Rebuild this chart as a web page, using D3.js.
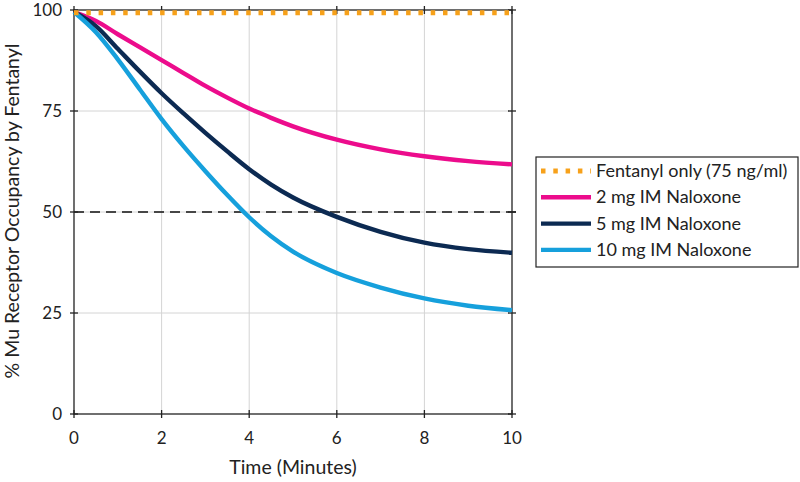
<!DOCTYPE html>
<html><head><meta charset="utf-8">
<script src="https://cdn.jsdelivr.net/npm/d3@7"></script>
<style>body{margin:0;background:#fff;}text{font-family:Lato,"Open Sans",sans-serif;fill:#222;}</style>
</head><body><svg id="c" width="800" height="482"></svg>
<script>
const times = [0, 0.5, 1, 1.5, 2, 2.5, 3, 3.5, 4, 4.5, 5, 6, 7, 8, 9, 10];
const fentanylOnly = [99.3, 99.3, 99.3, 99.3, 99.3, 99.3, 99.3, 99.3, 99.3, 99.3, 99.3, 99.3, 99.3, 99.3, 99.3, 99.3];
const nalox2mg = [99.5, 97.3, 94.0, 90.8, 87.6, 84.4, 81.2, 78.3, 75.6, 73.3, 71.2, 67.9, 65.5, 63.8, 62.6, 61.8];
const nalox5mg = [99.5, 96.0, 90.4, 84.8, 79.4, 74.4, 69.6, 65.0, 60.6, 56.8, 53.6, 48.8, 45.1, 42.4, 40.8, 39.9];
const nalox10mg = [99.5, 94.5, 87.8, 80.4, 73.0, 66.3, 60.1, 54.2, 48.7, 44.0, 40.2, 34.9, 31.3, 28.6, 26.8, 25.7];
const seriesNames = ["Fentanyl only (75 ng/ml)", "2 mg IM Naloxone", "5 mg IM Naloxone", "10 mg IM Naloxone"];
const seriesColors = ["#F7A11A", "#EC0C8C", "#0C2A52", "#16A0DC"];
const xTicks = [0, 2, 4, 6, 8, 10];
const yTicks = [0, 25, 50, 75, 100];
const thresholdValue = 50;

const svg = d3.select("#c");
const x = d3.scaleLinear().domain([0, 10]).range([74, 512]);
const y = d3.scaleLinear().domain([0, 100]).range([414, 10]);

// grid
svg.append("g").selectAll("line").data(xTicks.slice(1, -1)).join("line")
  .attr("x1", d => x(d)).attr("x2", d => x(d)).attr("y1", y(0)).attr("y2", y(100))
  .attr("stroke", "#d4d4d4").attr("stroke-width", 1);
svg.append("g").selectAll("line").data(yTicks.slice(1, -1)).join("line")
  .attr("y1", d => y(d)).attr("y2", d => y(d)).attr("x1", x(0)).attr("x2", x(10))
  .attr("stroke", "#d4d4d4").attr("stroke-width", 1);

// threshold dashed line
svg.append("line").attr("x1", x(0)).attr("x2", x(10) + 5)
  .attr("y1", y(thresholdValue)).attr("y2", y(thresholdValue))
  .attr("stroke", "#111").attr("stroke-width", 1.6).attr("stroke-dasharray", "10,6");

// axes (box with crossing ticks)
const axG = svg.append("g").attr("stroke", "#222").attr("stroke-width", 1.3);
axG.append("rect").attr("x", x(0)).attr("y", y(100)).attr("width", x(10) - x(0)).attr("height", y(0) - y(100)).attr("fill", "none");
xTicks.forEach(t => {
  axG.append("line").attr("x1", x(t)).attr("x2", x(t)).attr("y1", y(0) - 4).attr("y2", y(0) + 4);
  axG.append("line").attr("x1", x(t)).attr("x2", x(t)).attr("y1", y(100) - 4).attr("y2", y(100) + 4);
});
yTicks.forEach(t => {
  axG.append("line").attr("x1", x(0) - 4).attr("x2", x(0) + 4).attr("y1", y(t)).attr("y2", y(t));
  axG.append("line").attr("x1", x(10) - 4).attr("x2", x(10) + 4).attr("y1", y(t)).attr("y2", y(t));
});

// tick labels
svg.append("g").selectAll("text").data(xTicks).join("text")
  .attr("x", d => x(d)).attr("y", y(0) + 30).attr("text-anchor", "middle")
  .attr("font-size", 17).text(d => d);
svg.append("g").selectAll("text").data(yTicks).join("text")
  .attr("x", x(0) - 12).attr("y", d => y(d) + 6).attr("text-anchor", "end")
  .attr("font-size", 17).text(d => d);

// axis titles
svg.append("text").attr("x", x(5)).attr("y", 474).attr("text-anchor", "middle")
  .attr("font-size", 19.5).text("Time (Minutes)");
svg.append("text").attr("transform", `translate(19,${y(50) - 1}) rotate(-90)`)
  .attr("text-anchor", "middle").attr("font-size", 19.5).text("% Mu Receptor Occupancy by Fentanyl");

// lines
const allSeries = [fentanylOnly, nalox2mg, nalox5mg, nalox10mg];
const line = d3.line().x((d, i) => x(times[i])).y(d => y(d)).curve(d3.curveMonotoneX);
allSeries.forEach((s, k) => {
  if (k === 0) return;
  svg.append("path").attr("d", line(s)).attr("fill", "none")
    .attr("stroke", seriesColors[k]).attr("stroke-width", 4.4);
});
// fentanyl dotted on top
svg.append("path").attr("d", line(fentanylOnly)).attr("fill", "none")
  .attr("stroke", seriesColors[0]).attr("stroke-width", 5).attr("stroke-dasharray", "4.5,7.8");

// legend
const lg = svg.append("g");
lg.append("rect").attr("x", 536).attr("y", 157).attr("width", 262).attr("height", 110)
  .attr("fill", "#fff").attr("stroke", "#222").attr("stroke-width", 1.2);
seriesNames.forEach((n, k) => {
  const yy = 171 + k * 26.3;
  lg.append("line").attr("x1", 541).attr("x2", 591).attr("y1", yy).attr("y2", yy)
    .attr("stroke", seriesColors[k]).attr("stroke-width", k === 0 ? 5 : 4.4)
    .attr("stroke-dasharray", k === 0 ? "4.5,7.8" : null);
  lg.append("text").attr("x", 596).attr("y", yy + 6).attr("font-size", 18).text(n);
});
</script></body></html>
